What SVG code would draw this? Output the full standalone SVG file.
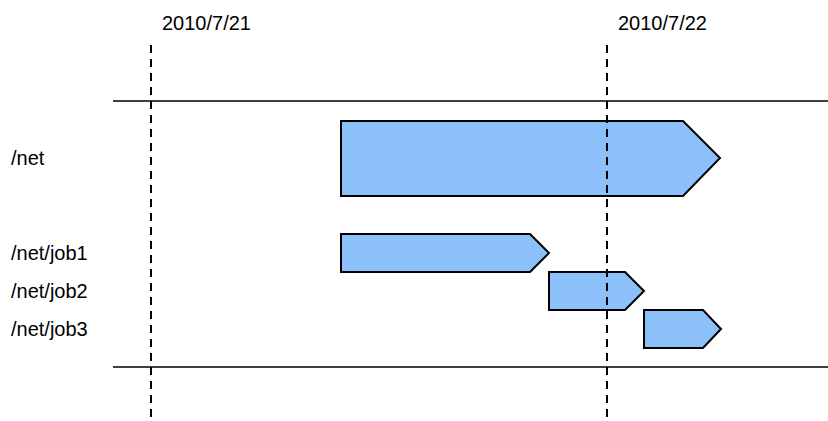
<svg xmlns="http://www.w3.org/2000/svg" width="828" height="421" viewBox="0 0 828 421">
<style>
text{font-family:"Liberation Sans",Arial,sans-serif;font-size:20px;fill:#000}
.bar{fill:#8BC0F9;stroke:#000;stroke-width:2;stroke-linejoin:miter}
.dash{stroke:#000;stroke-width:2;stroke-dasharray:8,6;fill:none}
.rule{stroke:#000;stroke-width:1.5;fill:none}
</style>
<rect width="828" height="421" fill="#fff"/>
<g id="axis">
<line class="rule" x1="113" y1="101" x2="828" y2="101"/>
<line class="rule" x1="113" y1="367" x2="828" y2="367"/>
</g>
<g id="date1">
<text x="162" y="30">2010/7/21</text>
<line class="dash" x1="151" y1="45" x2="151" y2="421"/>
</g>
<g id="date2">
<text x="618" y="30">2010/7/22</text>
</g>
<g id="net">
<text x="11" y="165">/net</text>
<polygon class="bar" points="341,121 683,121 720,158 683,196 341,196"/>
</g>
<g id="job1">
<text x="11" y="260">/net/job1</text>
<polygon class="bar" points="341,234 530,234 549,253 530,272 341,272"/>
</g>
<g id="job2">
<text x="11" y="298">/net/job2</text>
<polygon class="bar" points="549,272 625,272 644,291 625,310 549,310"/>
</g>
<g id="job3">
<text x="11" y="336">/net/job3</text>
<polygon class="bar" points="644,310 703,310 721,329 703,348 644,348"/>
</g>
<g id="connectors">
<line class="dash" x1="607" y1="45" x2="607" y2="421"/>
</g>
</svg>
